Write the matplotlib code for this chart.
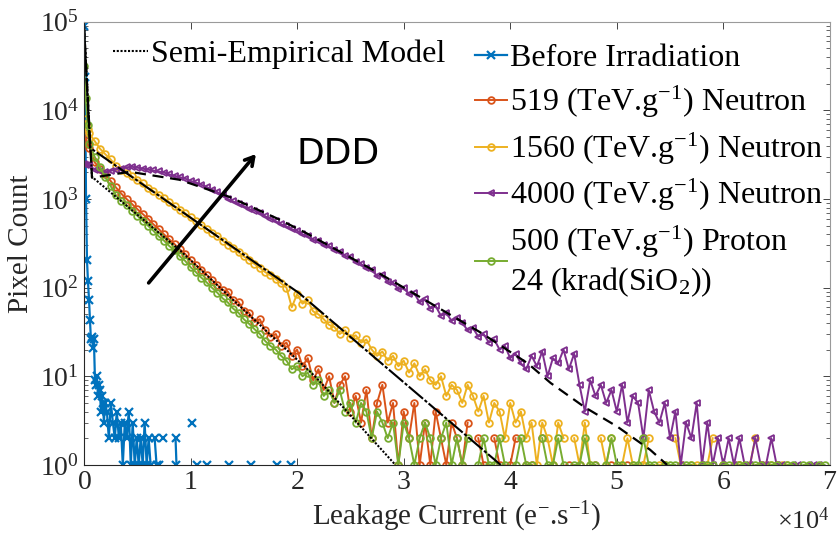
import numpy as np
import matplotlib.pyplot as plt
from matplotlib.ticker import ScalarFormatter, LogLocator, NullFormatter

plt.rcParams['font.family'] = ['Liberation Serif', 'DejaVu Serif']
plt.rcParams['mathtext.fontset'] = 'custom'
plt.rcParams['mathtext.rm'] = 'Liberation Serif'
plt.rcParams['mathtext.it'] = 'Liberation Serif:italic'
plt.rcParams['mathtext.default'] = 'regular'

# histogram bins: a few narrow ones near zero, then 500 e-/s wide
bin_width = 500
head_x = [0, 170, 330]

# Before irradiation (count 0 = empty bin)
blue_x = [0, 100, 190, 280, 370, 470, 560, 650, 750, 840, 930, 1030, 1120, 1210,
          1310, 1400, 1490, 1590, 1680, 1770, 1870, 1960, 2150, 2330, 2520, 2710,
          2890, 3080, 3270, 3450, 3640, 3830, 4010, 4200, 4390, 4570, 4760, 4950,
          5130, 5320, 5510, 5690, 5880, 6070, 6250, 6440, 6630, 6810, 7000, 7190,
          7380, 7560, 8400, 8590, 8680]
blue_counts = [90000, 24000, 1000, 205, 120, 73, 43, 26, 28, 21, 26, 9, 8, 10,
               6, 8, 7, 4, 6, 5, 3, 5, 4, 2, 5, 3,
               2, 4, 2, 3, 1, 3, 2, 4, 1, 3, 1, 2,
               1, 2, 1, 3, 1, 2, 1, 0, 2, 1, 1, 0,
               2, 0, 0, 2, 1]
blue_tail_x = [10180, 10640, 11580, 13630, 15690, 18110, 19420]
blue_tail_counts = [3, 1, 1, 1, 1, 1, 1]

# 519 TeV/g neutron
red_head = [5200, 4700, 4200]
red_counts = [
    3800, 2600, 2200, 1900, 1600, 1350, 1150, 1000, 880, 770,
    680, 600, 520, 460, 400, 350, 310, 270, 240, 205,
    180, 160, 140, 122, 108, 94, 90, 72, 69, 55,
    52, 41, 44, 33, 28, 30, 22, 24, 17, 20,
    13, 16, 9, 12, 7, 10, 5, 8, 10, 4,
    6, 3, 7, 2, 5, 8, 3, 5, 1, 4,
    2, 5, 1, 3, 1, 4, 2, 1, 3, 2,
    1, 3, 0, 2, 1, 0, 2, 1, 0, 1,
    2, 0, 1, 1, 0, 2, 0, 1, 0, 0,
    1, 0, 1, 0, 0, 1, 0, 0, 1, 0,
    0, 1, 0, 0, 1, 0, 0, 0, 1, 0,
    0, 1, 0, 0, 0, 1, 0, 0, 0, 1,
    0, 0, 1, 0, 0, 0, 1, 0, 0, 1]

# 1560 TeV/g neutron
yellow_head = [8000, 7000, 6200]
yellow_counts = [
    5500, 4500, 3700, 3200, 2800, 2350, 2150, 1950, 1800, 1650,
    1500, 1330, 1230, 1120, 1020, 920, 830, 760, 690, 620,
    560, 510, 460, 415, 380, 340, 305, 280, 250, 225,
    205, 185, 168, 150, 138, 125, 112, 100, 60, 85,
    66, 72, 54, 50, 44, 38, 36, 30, 33, 27,
    29, 24, 26, 20, 17, 19, 15, 17, 13, 15,
    11, 14, 10, 12, 9, 8, 10, 6, 8, 7,
    5, 8, 6, 4, 6, 3, 5, 4, 2, 5,
    3, 4, 2, 3, 1, 3, 2, 1, 3, 2,
    0, 2, 1, 3, 1, 0, 2, 1, 2, 0,
    1, 2, 1, 0, 1, 2, 0, 1, 1, 0,
    2, 1, 0, 1, 1, 0, 1, 2, 0, 1,
    0, 1, 1, 0, 1, 2, 0, 1, 1, 0,
    1, 1]

# 4000 TeV/g neutron
purple_head = [2500, 2450, 2420]
purple_counts = [
    2400, 2150, 2050, 2000, 2080, 2150, 2200, 2280, 2310, 2260,
    2200, 2150, 2100, 2050, 1990, 1900, 1830, 1760, 1700, 1600,
    1540, 1450, 1370, 1280, 1200, 1100, 1000, 940, 880, 830,
    770, 740, 700, 640, 600, 560, 520, 490, 455, 440,
    400, 380, 345, 340, 300, 295, 265, 255, 228, 222,
    195, 186, 165, 160, 135, 138, 116, 114, 96, 100,
    84, 86, 68, 74, 58, 62, 48, 52, 42, 46,
    40, 33, 35, 28, 30, 24, 26, 20, 22, 16,
    18, 14, 12, 17, 13, 19, 10, 16, 14, 20,
    12, 18, 8, 4, 9, 6, 8, 5, 7, 4,
    8, 3, 6, 5, 2, 7, 4, 3, 5, 2,
    4, 1, 3, 2, 5, 1, 3, 1, 2, 1,
    2, 1, 2, 1, 1, 2, 1, 1, 2, 1,
    1, 0, 1, 1, 0, 1, 1, 1]

# 500 TeV/g proton + 24 krad(SiO2)
green_head = [32000, 13800, 6800]
green_counts = [
    4200, 3000, 2300, 1750, 1400, 1100, 960, 850, 740, 650,
    570, 500, 440, 380, 340, 295, 265, 225, 200, 170,
    150, 130, 115, 100, 88, 76, 68, 58, 52, 44,
    39, 34, 30, 25, 22, 20, 17, 15, 12, 13,
    10, 11, 8, 9, 6, 7, 5, 7, 4, 5,
    3, 5, 4, 2, 4, 3, 2, 3, 1, 3,
    2, 1, 2, 3, 2, 1, 2, 3, 1, 2,
    1, 2, 0, 1, 2, 1, 1, 2, 1, 0,
    1, 2, 1, 1, 0, 2, 1, 1, 2, 1,
    0, 1, 1, 2, 1, 1, 0, 1, 2, 1,
    1, 0, 1, 1, 2, 1, 1, 0, 1, 1,
    1, 0, 1, 1, 0, 1, 1, 1, 0, 1,
    1, 0, 1, 1, 0, 1, 1, 0, 1, 1,
    0, 1, 1, 0, 1, 1, 0, 1, 1]

# semi-empirical model curves
model_low_x = [0, 750, 8960, 21750, 29220]
model_low_y = [90000, 1780, 267, 9.8, 1]
model_mid_x = [0, 560, 20170, 39100]
model_mid_y = [90000, 3790, 87, 1]
model_high_x = [0, 750, 4300, 8960, 13630, 18300, 20820, 27920, 32590,
                37250, 41640, 43790, 46960, 50050, 53130, 54720]
model_high_y = [90000, 1740, 2030, 1650, 1060, 590, 415, 140, 66,
                31, 14, 8.4, 4.5, 2.7, 1.48, 1]


def series(head, counts):
    x = np.concatenate([head_x, bin_width * np.arange(1, len(counts) + 1)])
    y = np.array(head + counts, dtype=float)
    y[y <= 0] = np.nan
    return x, y


def masked(vals):
    y = np.array(vals, dtype=float)
    y[y <= 0] = np.nan
    return y


fig = plt.figure(figsize=(8.4, 5.45), dpi=100)
ax = fig.add_axes([0.1, 0.147, 0.888, 0.813])

blue = '#0072BD'
red = '#D95319'
yellow = '#EDB120'
purple = '#7E2F8E'
green = '#77AC30'

mk = dict(markersize=4.8, markerfacecolor='none', markeredgewidth=1.3, linewidth=1.4)
bx = dict(marker='x', markersize=6, markeredgewidth=1.6)

h_blue, = ax.plot(blue_x, masked(blue_counts), color=blue, linewidth=1.6,
                  label='Before Irradiation', **bx)
ax.plot(blue_tail_x, masked(blue_tail_counts), color=blue, linestyle='none', **bx)

x, y = series(red_head, red_counts)
h_red, = ax.plot(x, y, color=red, marker='o', label='519 (TeV.g$^{-1}$) Neutron', **mk)
x, y = series(yellow_head, yellow_counts)
h_yel, = ax.plot(x, y, color=yellow, marker='o', label='1560 (TeV.g$^{-1}$) Neutron', **mk)
x, y = series(purple_head, purple_counts)
h_pur, = ax.plot(x, y, color=purple, marker='<', label='4000 (TeV.g$^{-1}$) Neutron', **mk)
x, y = series(green_head, green_counts)
h_grn, = ax.plot(x, y, color=green, marker='o',
                 label='500 (TeV.g$^{-1}$) Proton\n24 (krad(SiO$_2$))', **mk)

h_mod, = ax.plot(model_low_x, model_low_y, color='black', linestyle=(0, (1, 0.8)),
                 linewidth=1.5, label='Semi-Empirical Model')
ax.plot(model_mid_x, model_mid_y, color='black', linestyle=(0, (9, 1, 1.5, 1)),
        linewidth=1.5)
ax.plot(model_high_x, model_high_y, color='black', linestyle=(0, (5, 3)),
        linewidth=1.6)

ax.set_yscale('log')
ax.set_xlim(0, 70000)
ax.set_ylim(1, 1e5)

ax.yaxis.set_major_locator(LogLocator(base=10, numticks=10))
ax.yaxis.set_minor_locator(LogLocator(base=10, subs=np.arange(2, 10), numticks=10))
ax.yaxis.set_minor_formatter(NullFormatter())

fmt = ScalarFormatter(useMathText=True)
fmt.set_powerlimits((4, 4))
ax.xaxis.set_major_formatter(fmt)
ax.xaxis.get_offset_text().set_visible(False)
ax.text(1.0, -0.145, r'$\times$10$^{4}$', transform=ax.transAxes, fontsize=19,
        ha='right', va='baseline', color='#262626')

ax.tick_params(which='both', direction='in', top=True, right=True,
               labelsize=20, colors='#262626')
ax.tick_params(which='major', length=5, width=0.6)
ax.tick_params(which='minor', length=3, width=0.5)
for s in ['left', 'bottom']:
    ax.spines[s].set_color('#262626')
for s in ['top', 'right']:
    ax.spines[s].set_color('#9a9a9a')

ax.set_xlabel('Leakage Current (e$^{-}$.s$^{-1}$)', fontsize=21, color='#262626')
ax.set_ylabel('Pixel Count', fontsize=21, color='#262626')

leg1 = ax.legend(handles=[h_mod], loc='upper left', bbox_to_anchor=(0.0, 1.025),
                 frameon=False, fontsize=23, handlelength=1.1, handletextpad=0.1)
ax.add_artist(leg1)
ax.legend(handles=[h_blue, h_red, h_yel, h_pur, h_grn], loc='upper right',
          bbox_to_anchor=(1.03, 1.015), frameon=False, fontsize=23,
          handlelength=1.0, handletextpad=0.1, labelspacing=0.33, numpoints=1)

ax.annotate('', xy=(16300, 3400), xytext=(5900, 107),
            arrowprops=dict(arrowstyle='->, head_length=0.6, head_width=0.35',
                            color='black', lw=2.6))
ax.text(19900, 3200, 'DDD', fontsize=26, family='DejaVu Sans', va='center', ha='left')

fig.savefig('out.png', dpi=100)
